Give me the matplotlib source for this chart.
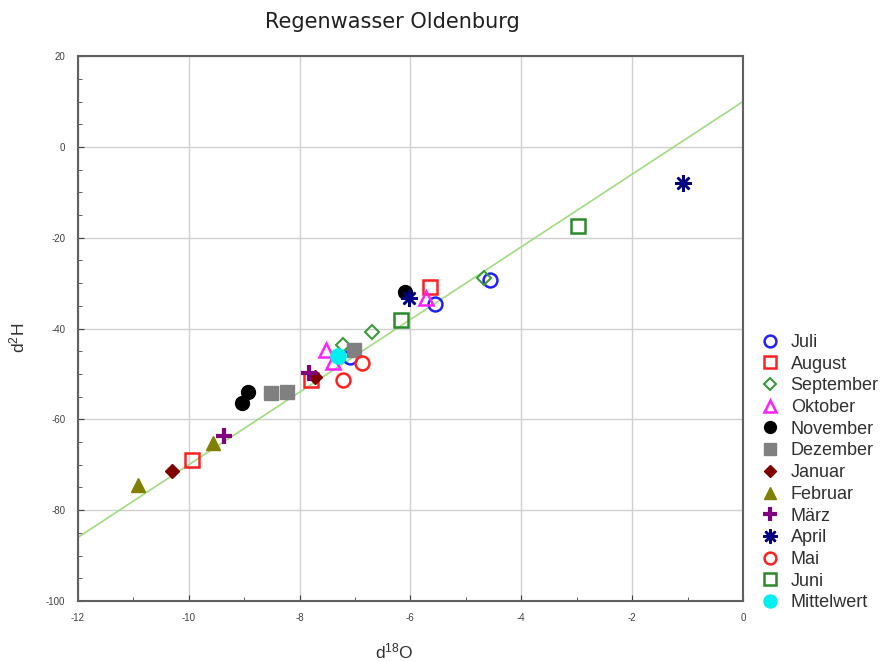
import numpy as np
import matplotlib.pyplot as plt
from matplotlib.ticker import MultipleLocator

plt.rcParams['font.family'] = ['Liberation Sans', 'DejaVu Sans']
plt.rcParams['mathtext.default'] = 'regular'
plt.rcParams['axes.unicode_minus'] = False

# Messwerte je Monat (d18O, d2H)
months = ['Juli', 'August', 'September', 'Oktober', 'November', 'Dezember',
          'Januar', 'Februar', 'März', 'April', 'Mai', 'Juni', 'Mittelwert']
d18o = [
    [-4.57, -5.56, -7.09],
    [-5.65, -9.94, -7.80],
    [-4.67, -6.70, -7.22],
    [-5.72, -7.53, -7.40],
    [-6.10, -8.93, -9.04],
    [-8.52, -8.23, -7.02],
    [-10.30, -7.72],
    [-10.92, -9.56],
    [-9.37, -7.83],
    [-1.08, -6.03],
    [-7.22, -6.88],
    [-2.98, -6.17],
    [-7.31],
]
d2h = [
    [-29.3, -34.6, -46.3],
    [-30.9, -68.9, -51.3],
    [-28.9, -40.8, -43.6],
    [-33.3, -44.7, -47.4],
    [-32.0, -54.0, -56.4],
    [-54.2, -54.0, -44.7],
    [-71.4, -50.7],
    [-74.5, -65.2],
    [-63.7, -49.8],
    [-8.0, -33.3],
    [-51.3, -47.6],
    [-17.4, -38.1],
    [-46.1],
]

# Marker-Stil je Monat: (marker, farbe, gefuellt)
styles = [
    ('o', '#2020ff', False),
    ('s', '#ff2020', False),
    ('D', '#3c9a3c', False),
    ('^', '#ff20ff', False),
    ('o', '#000000', True),
    ('s', '#808080', True),
    ('D', '#800000', True),
    ('^', '#808000', True),
    ('+', '#800080', True),
    ((8, 2, 0), '#000080', True),
    ('o', '#ff2020', False),
    ('s', '#2a8a2a', False),
    ('o', '#00f0f0', True),
]
sizes = [10, 10, 7, 10, 10, 10, 7, 10, 12, 12, 10, 10, 11]
edgew = [1.8, 1.8, 1.5, 1.8, 1, 1, 1, 1, 3, 1.8, 1.8, 1.8, 1]

fig = plt.figure(figsize=(8.85, 6.61), dpi=100)
ax = fig.add_axes([0.088, 0.0908, 0.7515, 0.8242])

# Globale Niederschlagsgerade: d2H = 8 * d18O + 10
gx = np.array([-12, 0])
ax.plot(gx, 8 * gx + 10, color='#a0dc80', lw=1.2, zorder=2)

for name, xs, ys, (m, c, filled), s, ew in zip(months, d18o, d2h, styles, sizes, edgew):
    ax.plot(xs, ys, linestyle='none', marker=m, ms=s,
            markerfacecolor=c if filled else 'none', markeredgecolor=c,
            markeredgewidth=ew, label=name, zorder=3)

ax.set_xlim(-12, 0)
ax.set_ylim(-100, 20)
ax.xaxis.set_major_locator(MultipleLocator(2))
ax.xaxis.set_minor_locator(MultipleLocator(1))
ax.yaxis.set_major_locator(MultipleLocator(20))
ax.yaxis.set_minor_locator(MultipleLocator(5))
ax.tick_params(which='both', direction='in', labelsize=7, colors='#404040', pad=9)
ax.tick_params(which='major', length=4)
ax.tick_params(which='minor', length=3)
ax.grid(True, which='major', color='#d0d0d0', lw=1)
for sp in ax.spines.values():
    sp.set_color('#606060')
    sp.set_linewidth(1.5)

fig.text(392 / 885, 1 - 22 / 661, 'Regenwasser Oldenburg', fontsize=15,
         family='DejaVu Sans', color='#202020', ha='center', va='center')
fig.text(394 / 885, 1 - 651 / 661, 'd$^{18}$O', fontsize=12.5,
         color='#303030', ha='center', va='center')
fig.text(17 / 885, 1 - 338 / 661, 'd$^{2}$H', fontsize=12.5, rotation=90,
         color='#303030', ha='center', va='center')

ax.legend(loc='upper left', bbox_to_anchor=(760 / 885, 1 - 334 / 661),
          bbox_transform=fig.transFigure, frameon=False, labelcolor='#303030',
          fontsize=13, handletextpad=0.6, labelspacing=0.26,
          handlelength=1.1, borderaxespad=0, borderpad=0, markerscale=0.85)

fig.savefig('out.png', dpi=100)
